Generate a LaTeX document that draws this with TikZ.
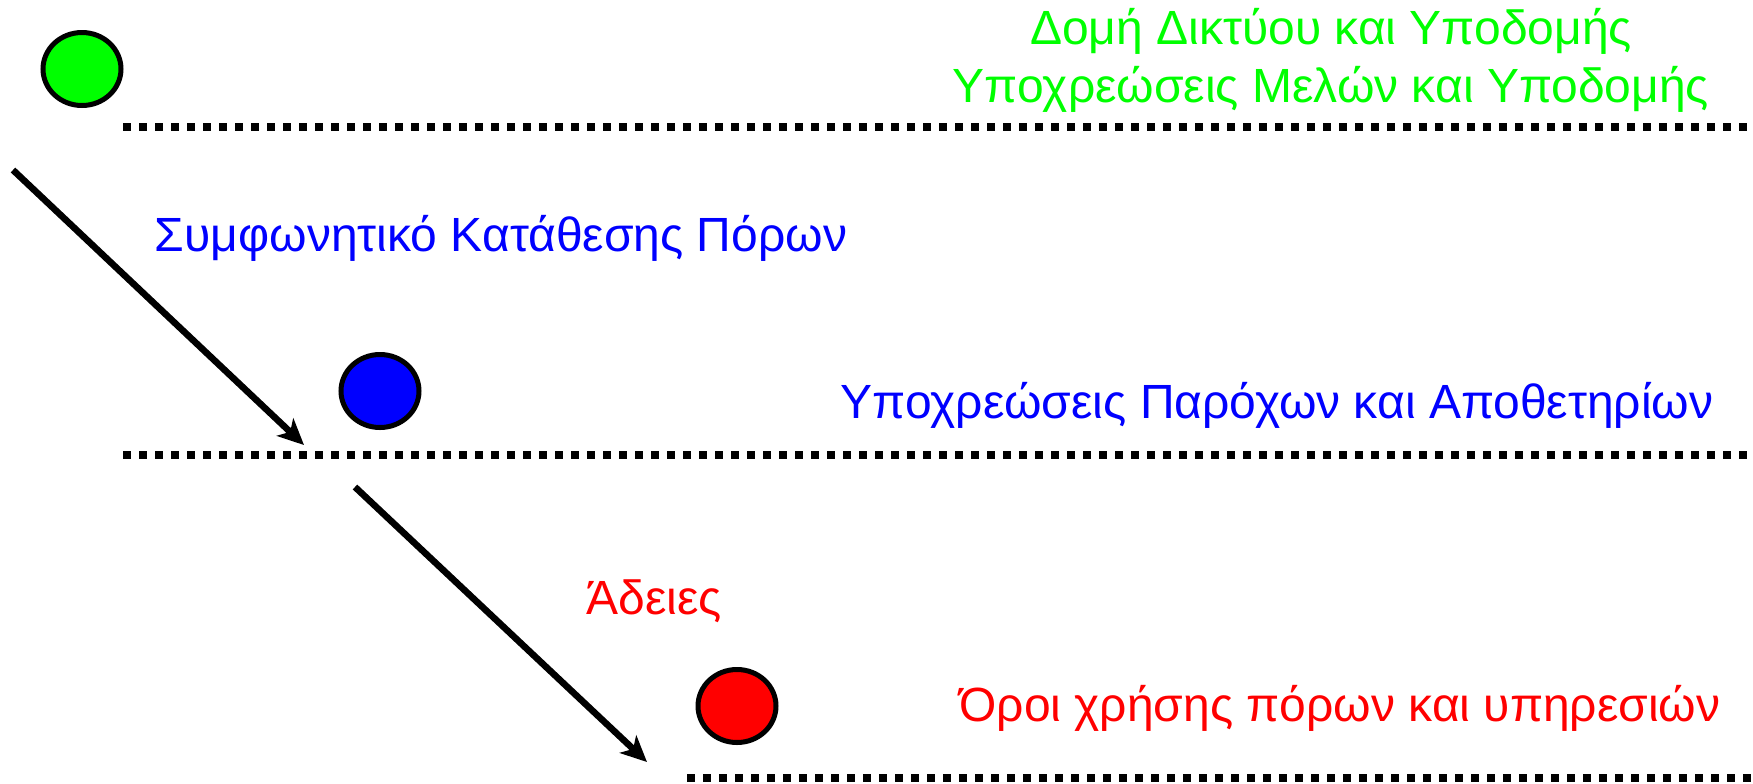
\documentclass[tikz,border=0pt]{standalone}
\usepackage{fontspec}
\setmainfont{Liberation Sans}
\usepackage{xcolor}
\usepackage{tikz}
\usetikzlibrary{arrows.meta}
\usetikzlibrary{shapes.geometric}
\definecolor{lime}{RGB}{0,255,0}
\definecolor{pureblue}{RGB}{0,0,255}
\definecolor{purered}{RGB}{255,0,0}
\tikzset{
	dot/.style={ellipse,draw=black,line width=2.5pt,minimum width=39pt,minimum height=36.5pt,inner sep=0pt},
	level/.style={line width=4pt,dash pattern=on 4pt off 4pt},
	step arrow/.style={line width=3.3pt,-{Stealth[length=13pt,width=12pt,inset=3.5pt]}},
	label/.style={font=\fontsize{24}{29}\selectfont,inner sep=0pt}
}

\begin{document}
\begin{tikzpicture}[x=0.5pt,y=-0.5pt]
	\useasboundingbox (0,0) rectangle (1753,783);
	% levels
	\coordinate (l1a) at (123,127); \coordinate (l1b) at (1753,127);
	\coordinate (l2a) at (123,455); \coordinate (l2b) at (1753,455);
	\coordinate (l3a) at (687,778); \coordinate (l3b) at (1753,778);
	\draw[level] (l1a) -- (l1b);
	\draw[level] (l2a) -- (l2b);
	\draw[level] (l3a) -- (l3b);
	% circles
	\node[dot,fill=lime] (green) at (82,69) {};
	\node[dot,fill=pureblue] (blue) at (380,391) {};
	\node[dot,fill=purered] (red) at (737,706) {};
	% arrows
	\coordinate (a1s) at (13,170); \coordinate (a1e) at (304,445);
	\coordinate (a2s) at (355,487); \coordinate (a2e) at (647,762);
	\draw[step arrow] (a1s) -- (a1e);
	\draw[step arrow] (a2s) -- (a2e);
	% texts
	\node[label,align=center,text=lime] (top) at (1331,60) {Δομή Δικτύου και Υποδομής\\Υποχρεώσεις Μελών και Υποδομής};
	\node[label,text=pureblue] (agree) at (501,238) {Συμφωνητικό Κατάθεσης Πόρων};
	\node[label,text=pureblue] (duties) at (1277,405) {Υποχρεώσεις Παρόχων και Αποθετηρίων};
	\node[label,text=purered] (perm) at (654,601) {Άδειες};
	\node[label,text=purered] (terms) at (1340,708) {Όροι χρήσης πόρων και υπηρεσιών};
\end{tikzpicture}
\end{document}
